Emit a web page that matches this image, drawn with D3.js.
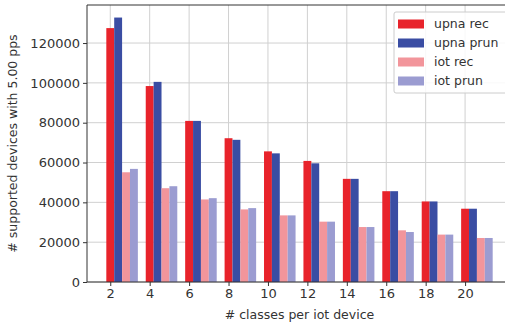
<!DOCTYPE html>
<html>
<head>
<meta charset="utf-8">
<script src="https://cdn.jsdelivr.net/npm/d3@7"></script>
<style>
  html, body { margin: 0; padding: 0; background: #fff; }
  svg { display: block; font-family: "DejaVu Sans", sans-serif; }
</style>
</head>
<body>
<svg id="chart" width="505" height="324"></svg>
<script>
// classes per iot device
const classes = [2, 4, 6, 8, 10, 12, 14, 16, 18, 20];
// supported devices at 5.00 pps
const upnaRec  = [127500, 98400, 80900, 72200, 65600, 60800, 51800, 45600, 40450, 36800];
const upnaPrun = [132800, 100500, 80900, 71400, 64600, 59600, 51800, 45600, 40450, 36800];
const iotRec   = [55100, 47100, 41450, 36450, 33450, 30300, 27600, 25950, 23800, 22100];
const iotPrun  = [56800, 48100, 42100, 37100, 33450, 30300, 27600, 25100, 23800, 22100];
const yTicks = [0, 20000, 40000, 60000, 80000, 100000, 120000];
const seriesNames = ["upna rec", "upna prun", "iot rec", "iot prun"];
const seriesColors = ["#e8232b", "#3a4da3", "#f2959b", "#9b9cd1"];
const seriesValues = [upnaRec, upnaPrun, iotRec, iotPrun];

const barWidth = 0.4;

const svg = d3.select("#chart");
const plot = { left: 87, right: 512, top: 5, bottom: 282 };

const x = d3.scaleLinear().domain([0.82, 22.38]).range([plot.left, plot.right]);
const y = d3.scaleLinear().domain([0, 139100]).range([plot.bottom, plot.top]);

const textColor = "#333";
const gridColor = "#d0d0d0";

// grid
const grid = svg.append("g");
grid.selectAll("line.v").data(classes).join("line")
  .attr("x1", d => x(d)).attr("x2", d => x(d))
  .attr("y1", plot.top).attr("y2", plot.bottom)
  .attr("stroke", gridColor).attr("stroke-width", 1);
grid.selectAll("line.h").data(yTicks).join("line")
  .attr("x1", plot.left).attr("x2", plot.right)
  .attr("y1", d => y(d)).attr("y2", d => y(d))
  .attr("stroke", gridColor).attr("stroke-width", 1);

// bars
seriesValues.forEach((vals, s) => {
  svg.append("g").selectAll("rect").data(classes).join("rect")
    .attr("x", (c) => x(c + s * barWidth - barWidth / 2))
    .attr("width", (c) => x(c + barWidth) - x(c))
    .attr("y", (c, i) => y(vals[i]))
    .attr("height", (c, i) => y(0) - y(vals[i]))
    .attr("fill", seriesColors[s]);
});

// axes
const xAxis = svg.append("g")
  .attr("transform", `translate(0,${plot.bottom})`)
  .call(d3.axisBottom(x).tickValues(classes).tickSize(4).tickPadding(3).tickSizeOuter(0));
const yAxis = svg.append("g")
  .attr("transform", `translate(${plot.left},0)`)
  .call(d3.axisLeft(y).tickValues(yTicks).tickFormat(d3.format("d"))
    .tickSize(4).tickPadding(3).tickSizeOuter(0));
[xAxis, yAxis].forEach(g => {
  g.select(".domain").remove();
  g.selectAll(".tick line").attr("stroke", textColor);
  g.selectAll(".tick text").attr("fill", textColor)
    .style("font-size", "13px").style("font-family", "DejaVu Sans, sans-serif");
});

// spines
svg.append("line").attr("x1", plot.left).attr("x2", plot.left)
  .attr("y1", plot.top).attr("y2", plot.bottom).attr("stroke", textColor);
svg.append("line").attr("x1", plot.left).attr("x2", plot.right)
  .attr("y1", plot.top).attr("y2", plot.top).attr("stroke", textColor);
svg.append("line").attr("x1", plot.left).attr("x2", plot.right)
  .attr("y1", plot.bottom).attr("y2", plot.bottom).attr("stroke", textColor);

// axis titles
svg.append("text")
  .attr("x", (plot.left + plot.right) / 2).attr("y", 319)
  .attr("text-anchor", "middle").attr("fill", textColor)
  .style("font-size", "12.5px")
  .text("# classes per iot device");
svg.append("text")
  .attr("transform", `translate(17,${(plot.top + plot.bottom) / 2}) rotate(-90)`)
  .attr("text-anchor", "middle").attr("fill", textColor)
  .style("font-size", "12.5px")
  .text("# supported devices with 5.00 pps");

// legend
const legend = svg.append("g").attr("transform", "translate(394,12)");
legend.append("rect")
  .attr("x", 0).attr("y", 0).attr("width", 118).attr("height", 81)
  .attr("rx", 2)
  .attr("fill", "#fff").attr("fill-opacity", 0.85)
  .attr("stroke", "#cccccc");
seriesNames.forEach((name, i) => {
  const row = legend.append("g").attr("transform", `translate(0,${12 + i * 19})`);
  row.append("rect").attr("x", 4).attr("y", -4.5).attr("width", 26).attr("height", 9)
    .attr("fill", seriesColors[i]);
  row.append("text").attr("x", 40).attr("y", 0).attr("dy", "0.35em")
    .attr("fill", textColor).style("font-size", "12.5px").text(name);
});
</script>
</body>
</html>
